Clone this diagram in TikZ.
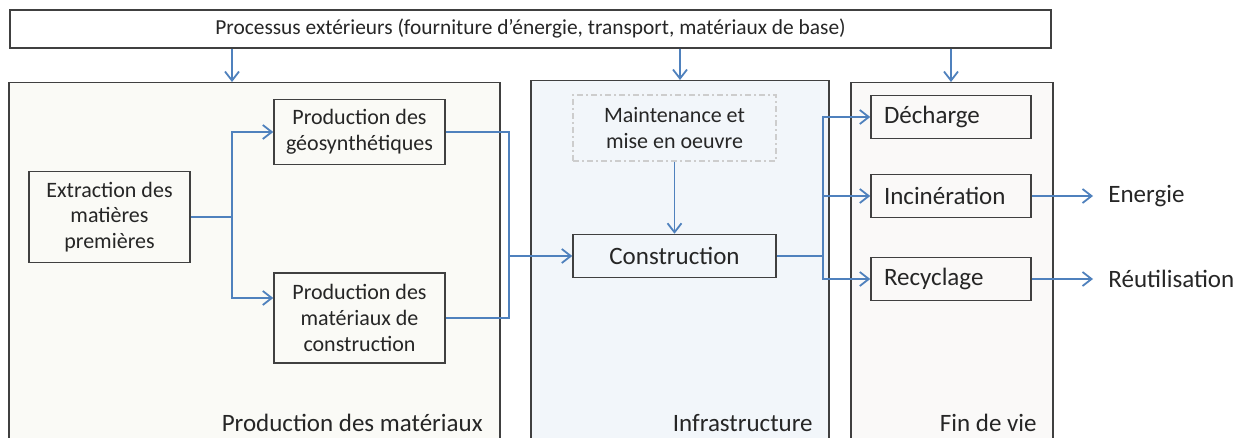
\documentclass[tikz,border=0pt]{standalone}
\usepackage{fontspec}
\setmainfont{Carlito}
\usetikzlibrary{arrows.meta,positioning,calc}

\definecolor{flowblue}{RGB}{79,129,189}
\definecolor{framegray}{RGB}{64,64,64}
\definecolor{inkgray}{RGB}{38,38,38}
\definecolor{prodfill}{RGB}{250,250,246}
\definecolor{infrafill}{RGB}{242,246,250}
\definecolor{finfill}{RGB}{250,249,248}
\definecolor{dashgray}{RGB}{205,205,205}

\tikzset{
  panel/.style={draw=framegray, line width=0.75pt, inner sep=0pt, minimum height=190pt},
  stepbox/.style={draw=framegray, line width=0.75pt, align=center, text=inkgray,
    font=\fontsize{11}{12.8}\selectfont, inner sep=0pt},
  endbox/.style={draw=framegray, line width=0.75pt, text=inkgray, align=left,
    font=\fontsize{12.5}{14}\selectfont, inner xsep=6.5pt, inner ysep=0pt,
    text width=67pt, minimum height=21.5pt},
  paneltitle/.style={anchor=east, text=inkgray, font=\fontsize{12.5}{14}\selectfont, inner sep=0pt},
  outtext/.style={anchor=west, text=inkgray, font=\fontsize{12.5}{14}\selectfont, inner sep=0pt},
  link/.style={draw=flowblue, line width=0.9pt},
  flow/.style={link, -{Straight Barb[length=4.5pt,width=7pt]}},
}

\begin{document}
\begin{tikzpicture}[x=0.5pt,y=-0.5pt]
\useasboundingbox[fill=white] (0,0) rectangle (1242,438);

% External processes
\node[stepbox, fill=white, font=\fontsize{10.7}{12}\selectfont,
  minimum width=520.5pt, minimum height=19pt] (ext) at (530.5,29)
  {Processus extérieurs (fourniture d’énergie, transport, matériaux de base)};

% Three stages
\node[panel, fill=prodfill, anchor=north west, minimum width=245.5pt] (prod) at (8,82) {};
\node[panel, fill=infrafill, anchor=north west, minimum width=149pt] (infra) at (530,80) {};
\node[panel, fill=finfill, anchor=north west, minimum width=101pt] (fin) at (850,82) {};
\node[paneltitle] (prodlbl) at (483,423) {Production des matériaux};
\node[paneltitle] (infralbl) at (813,423) {Infrastructure};
\node[paneltitle] (finlbl) at (1037,423) {Fin de vie};

% Production des matériaux
\node[stepbox, minimum width=80.5pt, minimum height=45.5pt] (extr) at (109.5,217)
  {Extraction des\\matières\\premières};
\node[stepbox, minimum width=85.5pt, minimum height=32.5pt] (geo) at (359.5,132)
  {Production des\\géosynthétiques};
\node[stepbox, minimum width=85.5pt, minimum height=45pt] (mat) at (359.5,318)
  {Production des\\matériaux de\\construction};

% Infrastructure
\node[stepbox, draw=dashgray, dash pattern=on 3pt off 1.5pt on 1pt off 1.5pt,
  minimum width=101.5pt, minimum height=33pt] (maint) at (674.5,128)
  {Maintenance et\\mise en oeuvre};
\node[stepbox, font=\fontsize{12.5}{14}\selectfont, minimum width=101.5pt,
  minimum height=21.5pt] (constr) at (674.5,256) {Construction};

% Fin de vie
\node[endbox] (dech) at (951,117) {Décharge};
\node[endbox] (incin) at (951,196) {Incinération};
\node[endbox] (recyc) at (951,279) {Recyclage};
\node[outtext] (energie) at (1108,196) {Energie};
\node[outtext] (reutil) at (1108,279) {Réutilisation};

% Junctions
\coordinate (j1) at (232,217);
\coordinate (j2) at (509,256);
\coordinate (j3) at (823,256);
\coordinate (j4) at (680,0);

% Arrows from external processes
\draw[flow] (ext.south -| j1) -- (prod.north -| j1);
\draw[flow] (ext.south -| j4) -- (infra.north -| j4);
\draw[flow] (ext.south -| dech) -- (fin.north -| dech);

% Material flows
\draw[link] (extr.east) -- (j1);
\draw[flow] (j1) |- (geo.west);
\draw[flow] (j1) |- ([yshift=10pt]mat.west);
\draw[link] (geo.east) -| (j2);
\draw[link] (mat.east) -| (j2);
\draw[flow] (j2) -- (constr.west);
\draw[flow] (maint.south) -- (constr.north);

% End of life
\draw[link, line width=1.2pt] (constr.east) -- (j3);
\draw[flow] (j3) |- (dech.west);
\draw[flow] (j3) |- (incin.west);
\draw[flow] (j3) |- (recyc.west);
\draw[flow] (incin.east) -- ([xshift=-7.5pt]energie.west);
\draw[flow] (recyc.east) -- ([xshift=-7.5pt]reutil.west);

\end{tikzpicture}
\end{document}
